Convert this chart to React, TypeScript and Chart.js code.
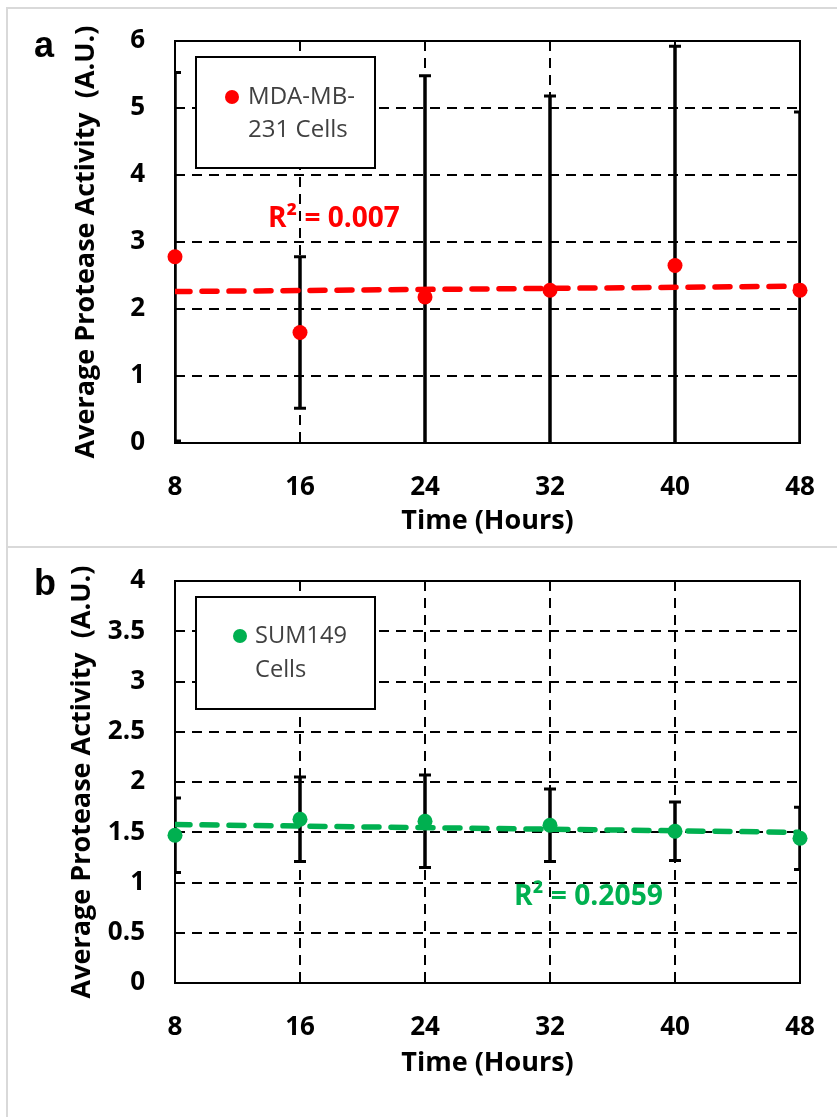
import React, { useEffect, useRef } from "react";
import { Chart, registerables } from "chart.js";

Chart.register(...registerables);

// ---------- data ----------
const hours = [8, 16, 24, 32, 40, 48];
const trendHours = [8, 48];

const mdaValues = [2.78, 1.65, 2.18, 2.28, 2.65, 2.28];
const mdaErrors = [2.75, 1.13, 3.3, 2.9, 3.27, 2.66];
const mdaTrend = [2.26, 2.34];
const mdaR2 = "R² = 0.007";
const mdaLegend = ["MDA-MB-", "231 Cells"];

const sumValues = [1.47, 1.63, 1.61, 1.57, 1.51, 1.44];
const sumErrors = [0.37, 0.42, 0.46, 0.36, 0.29, 0.31];
const sumTrend = [1.577, 1.499];
const sumR2 = "R² = 0.2059";
const sumLegend = ["SUM149", "Cells"];

const xTitle = "Time (Hours)";
const yTitle = "Average Protease Activity  (A.U.)";

const FONT = "'Open Sans', 'Noto Sans', sans-serif";

type PanelCfg = {
  letter: string;
  values: number[];
  errors: number[];
  trend: number[];
  color: string;
  yMax: number;
  yStep: number;
  legend: string[];
  r2: string;
  height: number;
  padTop: number;
  xAxisH: number;
  xTitlePad: number;
  yTitlePad: number;
  letterBaseline: number;
  box: { x: number; y: number; w: number; h: number };
  dot: { x: number; y: number };
  legendTextX: number;
  legendLineY: number[];
  legendWidth: number;
  r2Pos: { x: number; y: number; w: number };
};

function fitSize(ctx: CanvasRenderingContext2D, text: string, weight: string, width: number) {
  ctx.font = `${weight} 100px ${FONT}`;
  const w = ctx.measureText(text).width;
  return (100 * width) / w;
}

function Panel({ cfg }: { cfg: PanelCfg }) {
  const ref = useRef<HTMLCanvasElement | null>(null);
  useEffect(() => {
    if (!ref.current) return;
    const overlay = {
      id: "overlay",
      beforeDatasetsDraw(chart: any) {
        const { ctx, chartArea: a, scales } = chart;
        const xs = scales.x;
        const ys = scales.y;
        ctx.save();
        ctx.strokeStyle = "#000";
        ctx.lineWidth = 2;
        ctx.setLineDash([]);
        ctx.strokeRect(a.left, a.top, a.right - a.left, a.bottom - a.top);
        ctx.restore();
        ctx.save();
        ctx.beginPath();
        ctx.rect(a.left, a.top, a.right - a.left, a.bottom - a.top);
        ctx.clip();
        ctx.strokeStyle = "#000";
        ctx.setLineDash([]);
        cfg.values.forEach((v, i) => {
          const px = xs.getPixelForValue(hours[i]);
          const y1 = ys.getPixelForValue(v + cfg.errors[i]);
          const y2 = ys.getPixelForValue(v - cfg.errors[i]);
          ctx.lineWidth = 3.5;
          ctx.beginPath();
          ctx.moveTo(px, y1);
          ctx.lineTo(px, y2);
          ctx.stroke();
          ctx.lineWidth = 3;
          ctx.beginPath();
          ctx.moveTo(px - 6, y1);
          ctx.lineTo(px + 6, y1);
          ctx.moveTo(px - 6, y2);
          ctx.lineTo(px + 6, y2);
          ctx.stroke();
        });
        ctx.restore();
      },
      afterDraw(chart: any) {
        const { ctx } = chart;
        ctx.save();
        ctx.fillStyle = "#000";
        ctx.font = `bold 36px 'Liberation Sans', Arial, sans-serif`;
        ctx.textBaseline = "alphabetic";
        ctx.textAlign = "left";
        ctx.fillText(cfg.letter, 34, cfg.letterBaseline);
        const b = cfg.box;
        ctx.fillStyle = "#fff";
        ctx.fillRect(b.x, b.y, b.w, b.h);
        ctx.strokeStyle = "#000";
        ctx.lineWidth = 2;
        ctx.strokeRect(b.x, b.y, b.w, b.h);
        ctx.fillStyle = cfg.color;
        ctx.beginPath();
        ctx.arc(cfg.dot.x, cfg.dot.y, 7, 0, Math.PI * 2);
        ctx.fill();
        const ls = fitSize(ctx, cfg.legend[0], "normal", cfg.legendWidth);
        ctx.font = `normal ${ls}px ${FONT}`;
        ctx.fillStyle = "#404040";
        ctx.textBaseline = "middle";
        cfg.legend.forEach((t, i) => ctx.fillText(t, cfg.legendTextX, cfg.legendLineY[i]));
        const rs = fitSize(ctx, cfg.r2, "bold", cfg.r2Pos.w);
        ctx.font = `bold ${rs}px ${FONT}`;
        ctx.fillStyle = cfg.color;
        ctx.textBaseline = "alphabetic";
        ctx.fillText(cfg.r2, cfg.r2Pos.x, cfg.r2Pos.y);
        ctx.restore();
      },
    };

    const chart = new Chart(ref.current, {
      type: "scatter",
      data: {
        datasets: [
          {
            label: "points",
            data: hours.map((h, i) => ({ x: h, y: cfg.values[i] })),
            backgroundColor: cfg.color,
            borderColor: cfg.color,
            pointRadius: 7.5,
            pointBorderWidth: 0,
            showLine: false,
            clip: false as any,
          },
          {
            label: "trend",
            type: "line" as any,
            data: trendHours.map((h, i) => ({ x: h, y: cfg.trend[i] })),
            borderColor: cfg.color,
            borderWidth: 5.5,
            borderDash: [15, 12],
            borderCapStyle: "round",
            pointRadius: 0,
            fill: false,
          } as any,
        ],
      },
      options: {
        responsive: false,
        animation: false,
        events: [],
        layout: { padding: { left: 0, top: cfg.padTop, right: 37, bottom: 0 } },
        plugins: { legend: { display: false }, tooltip: { enabled: false } },
        scales: {
          x: {
            type: "linear",
            min: 8,
            max: 48,
            afterFit: (s: any) => {
              s.height = cfg.xAxisH;
              s.paddingLeft = 0;
              s.paddingRight = 0;
            },
            ticks: {
              stepSize: 8,
              padding: 29,
              color: "#000",
              font: { family: FONT, size: 26, weight: "bold" },
            },
            grid: { color: "#000", lineWidth: 2, drawTicks: false },
            border: { display: false, dash: [10, 7] },
            title: {
              display: true,
              text: xTitle,
              color: "#000",
              font: { family: FONT, size: 27, weight: "bold" },
              padding: { top: 0, bottom: cfg.xTitlePad },
            },
          },
          y: {
            type: "linear",
            min: 0,
            max: cfg.yMax,
            afterFit: (s: any) => {
              s.width = 175;
              s.paddingTop = 0;
              s.paddingBottom = 0;
            },
            ticks: {
              stepSize: cfg.yStep,
              padding: 30,
              color: "#000",
              font: { family: FONT, size: 26, weight: "bold" },
              callback: (v: any) => String(Number(v)),
            },
            grid: { color: "#000", lineWidth: 2, drawTicks: false },
            border: { display: false, dash: [10, 7] },
            title: {
              display: true,
              text: yTitle,
              color: "#000",
              font: { family: FONT, size: 27, weight: "bold" },
              padding: { top: cfg.yTitlePad, bottom: 0 },
            },
          },
        },
      } as any,
      plugins: [overlay],
    });
    return () => chart.destroy();
  }, []);
  return <canvas ref={ref} width={837} height={cfg.height} style={{ display: "block", width: 837, height: cfg.height }} />;
}

const panelA: PanelCfg = {
  letter: "a",
  values: mdaValues,
  errors: mdaErrors,
  trend: mdaTrend,
  color: "#ff0000",
  yMax: 6,
  yStep: 1,
  legend: mdaLegend,
  r2: mdaR2,
  height: 548,
  padTop: 41,
  xAxisH: 105,
  xTitlePad: 10,
  yTitlePad: 70,
  letterBaseline: 57,
  box: { x: 196, y: 57, w: 179, h: 111 },
  dot: { x: 232, y: 97 },
  legendTextX: 248,
  legendLineY: [97, 130],
  legendWidth: 107,
  r2Pos: { x: 268, y: 227, w: 132 },
};

const panelB: PanelCfg = {
  letter: "b",
  values: sumValues,
  errors: sumErrors,
  trend: sumTrend,
  color: "#00b050",
  yMax: 4,
  yStep: 0.5,
  legend: sumLegend,
  r2: sumR2,
  height: 569,
  padTop: 33,
  xAxisH: 134,
  xTitlePad: 37,
  yTitlePad: 66,
  letterBaseline: 47,
  box: { x: 196, y: 49, w: 179, h: 112 },
  dot: { x: 240, y: 88 },
  legendTextX: 255,
  legendLineY: [88, 122],
  legendWidth: 92,
  r2Pos: { x: 514, y: 357, w: 149 },
};

export default function App() {
  return (
    <div style={{ position: "fixed", left: 0, top: 0, width: 837, height: 1117, background: "#fff", overflow: "hidden" }}>
      <div
        style={{
          position: "absolute",
          left: 6,
          top: 7,
          width: 900,
          height: 541,
          boxSizing: "border-box",
          borderTop: "2px solid #d9d9d9",
          borderLeft: "2px solid #d9d9d9",
          borderBottom: "2px solid #d9d9d9",
        }}
      />
      <div
        style={{
          position: "absolute",
          left: 6,
          top: 546,
          width: 900,
          height: 700,
          boxSizing: "border-box",
          borderLeft: "2px solid #d9d9d9",
        }}
      />
      <div style={{ position: "absolute", left: 0, top: 0 }}>
        <Panel cfg={panelA} />
      </div>
      <div style={{ position: "absolute", left: 0, top: 548 }}>
        <Panel cfg={panelB} />
      </div>
    </div>
  );
}
